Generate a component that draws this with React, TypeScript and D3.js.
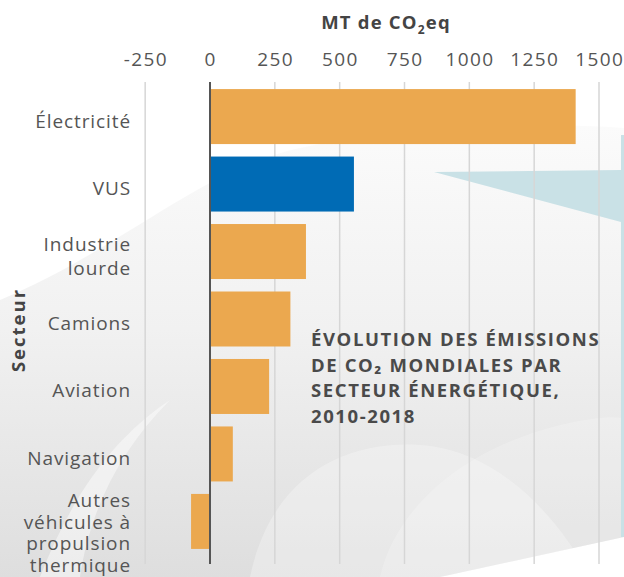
import React from "react";
import * as d3 from "d3";

const categories = ["Électricité", "VUS", "Industrie lourde", "Camions", "Aviation", "Navigation", "Autres véhicules à propulsion thermique"];
const categoryLines = [["Électricité"], ["VUS"], ["Industrie", "lourde"], ["Camions"], ["Aviation"], ["Navigation"], ["Autres", "véhicules à", "propulsion", "thermique"]];
const values = [1410, 555, 370, 310, 228, 88, -73];
const highlight = ["VUS"];
const ticks = [-250, 0, 250, 500, 750, 1000, 1250, 1500];
const titleLines = ["ÉVOLUTION DES ÉMISSIONS", "DE CO₂ MONDIALES PAR", "SECTEUR ÉNERGÉTIQUE,", "2010-2018"];

const W = 624, H = 577;

export default function App() {
  const x = d3.scaleLinear().domain([0, 1500]).range([210, 599]);
  const y = d3.scaleBand<string>().domain(categories).range([83, 555]).paddingInner(0.185).paddingOuter(0.09);
  const gTop = 82, gBot = 564;
  const font = "'Open Sans', sans-serif";
  return (
    <svg width={W} height={H} style={{ display: "block", position: "absolute", left: 0, top: 0 }}>
      <defs>
        <linearGradient id="bg" x1="0" y1="0" x2="0" y2="1">
          <stop offset="0" stopColor="#fbfbfb" />
          <stop offset="0.45" stopColor="#f1f1f1" />
          <stop offset="1" stopColor="#dedede" />
        </linearGradient>
      </defs>
      <rect x={0} y={0} width={W} height={H} fill="#ffffff" />
      {/* decorative background */}
      <path d={`M0,300 C120,250 200,170 300,148 C380,130 520,120 624,128 L624,537 L440,577 L0,577 Z`} fill="url(#bg)" />
      <path d={`M40,577 C70,500 110,440 170,400 C120,450 90,510 80,577 Z`} fill="#ffffff" opacity={0.45} />
      <path d={`M250,577 C270,480 340,440 420,445 C500,450 560,520 590,577 Z`} fill="#ffffff" opacity={0.28} />
      <path d={`M380,577 C395,510 460,450 560,425 C590,418 610,416 624,418 L624,537 L440,577 Z`} fill="#ffffff" opacity={0.2} />
      {/* light blue shape */}
      <path d={`M434,172 L621,170 L621,135 L624,135 L624,537 L621,537 L621,222 Z`} fill="#c9e1e6" />
      {/* gridlines */}
      {ticks.filter(t => t !== 0).map(t => (
        <line key={t} x1={x(t)} x2={x(t)} y1={gTop} y2={gBot} stroke="#d6d6d6" strokeWidth={1.5} />
      ))}
      {/* bars */}
      {categories.map((c, i) => (
        <rect key={c} x={Math.min(x(0), x(values[i]))} y={y(c)} width={Math.abs(x(values[i]) - x(0))} height={y.bandwidth()}
          fill={highlight.includes(c) ? "#006BB5" : "#EBA84F"} />
      ))}
      {/* zero line */}
      <line x1={x(0)} x2={x(0)} y1={gTop} y2={gBot} stroke="#555555" strokeWidth={2} />
      {/* tick labels */}
      {ticks.map(t => (
        <text key={t} x={x(t) + 0.7} y={66} textAnchor="middle" fontFamily={font} fontSize={19} letterSpacing={1.4} fill="#555555">{t}</text>
      ))}
      {/* axis title */}
      <text x={386} y={29} textAnchor="middle" fontFamily={font} fontSize={18.5} fontWeight="bold" letterSpacing={1.2} fill="#444444">
        MT de CO<tspan fontSize={12} dy={5}>2</tspan><tspan dy={-5}>eq</tspan>
      </text>
      {/* category labels */}
      {categories.map((c, i) => {
        const lines = categoryLines[i];
        const n = lines.length;
        const cy = y(c)! + y.bandwidth() / 2;
        const lh = n === 2 ? 24 : 21.8;
        const off = n > 2 ? 18 : 11;
        const start = cy - ((n - 1) * lh) / 2 + off;
        return (
          <text key={c} textAnchor="end" fontFamily={font} fontSize={19} letterSpacing={0.9} fill="#555555">
            {lines.map((l, j) => (
              <tspan key={j} x={131} y={start + j * lh}>{l}</tspan>
            ))}
          </text>
        );
      })}
      {/* y axis title */}
      <text transform="translate(25,330) rotate(-90)" textAnchor="middle" fontFamily={font} fontSize={18.5} fontWeight="bold" letterSpacing={2} fill="#444444">Secteur</text>
      {/* chart title */}
      <text fontFamily={font} fontSize={18.5} fontWeight="bold" letterSpacing={1.6} fill="#4a4a4a">
        {titleLines.map((l, j) => (
          <tspan key={j} x={311} y={346 + j * 25.5}>{l}</tspan>
        ))}
      </text>
    </svg>
  );
}
